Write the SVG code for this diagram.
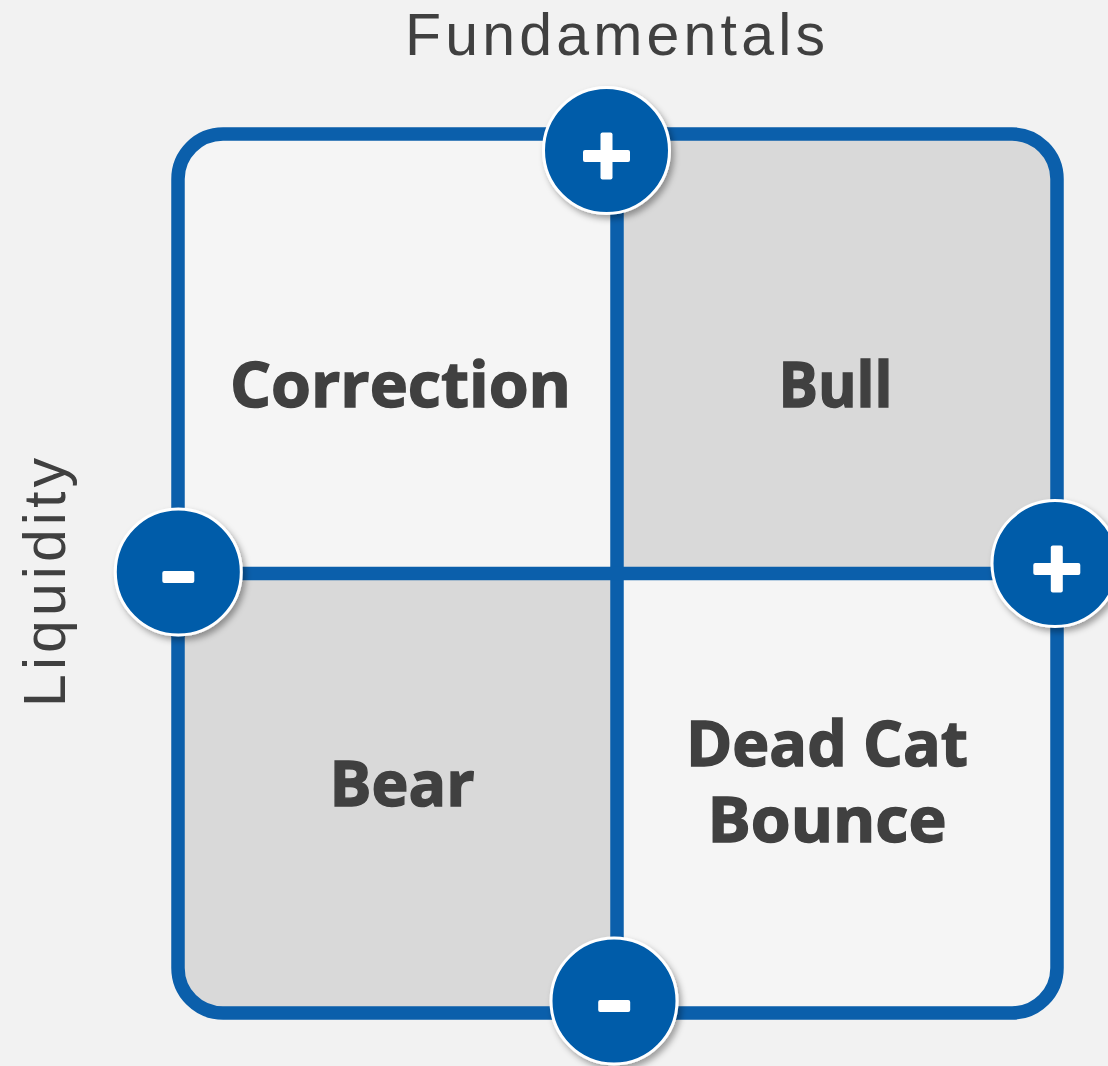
<svg xmlns="http://www.w3.org/2000/svg" width="1108" height="1066" viewBox="0 0 1108 1066">
  <defs>
    <style>
      .axis { font-family: "Liberation Sans", "Open Sans", sans-serif; font-size: 59px; fill: #404040; text-anchor: middle; }
      .lbl { font-family: "Open Sans", "Liberation Sans", sans-serif; font-weight: 700; font-size: 62px; fill: #404040; stroke: #404040; stroke-width: 1.4; text-anchor: middle; }
      .light { fill: #f5f5f5; }
      .dark { fill: #d9d9d9; }
      .line { stroke: #0b5fab; stroke-width: 13.5; fill: none; }
      .badge { fill: #005ca9; stroke: #ffffff; stroke-width: 3; filter: url(#sh); }
      .sym { fill: #ffffff; }
    </style>
    <clipPath id="box">
      <rect x="178" y="134" width="879" height="879" rx="45" ry="45"/>
    </clipPath>
    <filter id="sh" x="-30%" y="-30%" width="170%" height="170%">
      <feDropShadow dx="3" dy="4" stdDeviation="3" flood-color="#000" flood-opacity="0.35"/>
    </filter>
  </defs>

  <rect x="0" y="0" width="1108" height="1066" fill="#f2f2f2"/>

  <g id="quadrants" clip-path="url(#box)">
    <g id="q-correction"><rect class="light" x="178" y="134" width="439" height="440"/></g>
    <g id="q-bull"><rect class="dark" x="617" y="134" width="440" height="440"/></g>
    <g id="q-bear"><rect class="dark" x="178" y="574" width="439" height="439"/></g>
    <g id="q-deadcat"><rect class="light" x="617" y="574" width="440" height="439"/></g>
  </g>

  <g id="connectors">
    <rect class="line" x="178" y="134" width="879" height="879" rx="45" ry="45"/>
    <line class="line" x1="617" y1="134" x2="617" y2="1013"/>
    <line class="line" x1="178" y1="573.5" x2="1057" y2="573.5"/>
  </g>

  <g id="labels">
    <g id="label-correction"><text class="lbl" x="400.5" y="407" textLength="341" lengthAdjust="spacingAndGlyphs">Correction</text></g>
    <g id="label-bull"><text class="lbl" x="835.5" y="407" textLength="114" lengthAdjust="spacingAndGlyphs">Bull</text></g>
    <g id="label-bear"><text class="lbl" x="402" y="806" textLength="145" lengthAdjust="spacingAndGlyphs">Bear</text></g>
    <g id="label-deadcat">
      <text class="lbl" x="827" y="766" textLength="282" lengthAdjust="spacingAndGlyphs">Dead Cat</text>
      <text class="lbl" x="827" y="842" textLength="239" lengthAdjust="spacingAndGlyphs">Bounce</text>
    </g>
  </g>

  <g id="axis-fundamentals"><text class="axis" x="615" y="54.5" textLength="420" lengthAdjust="spacing">Fundamentals</text></g>
  <g id="axis-liquidity"><text class="axis" transform="translate(65 582.5) rotate(-90)" x="0" y="0" textLength="249" lengthAdjust="spacing">Liquidity</text></g>

  <g id="badge-top-plus">
    <circle class="badge" cx="606.5" cy="150.5" r="63"/>
    <rect class="sym" x="583" y="150" width="47" height="12" rx="2"/>
    <rect class="sym" x="600.5" y="132.5" width="12" height="47" rx="2"/>
  </g>
  <g id="badge-left-minus">
    <circle class="badge" cx="178.3" cy="572" r="63"/>
    <rect class="sym" x="162.3" y="571" width="32" height="12" rx="2"/>
  </g>
  <g id="badge-right-plus">
    <circle class="badge" cx="1055" cy="563.5" r="63"/>
    <rect class="sym" x="1033.3" y="563" width="47" height="12" rx="2"/>
    <rect class="sym" x="1050.8" y="545.5" width="12" height="47" rx="2"/>
  </g>
  <g id="badge-bottom-minus">
    <circle class="badge" cx="614" cy="1001" r="63"/>
    <rect class="sym" x="598.2" y="1000" width="32" height="12" rx="2"/>
  </g>
</svg>
